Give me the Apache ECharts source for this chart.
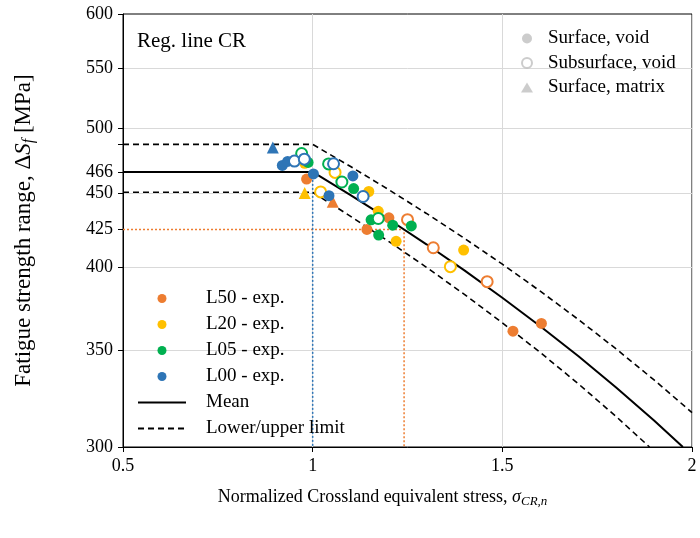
<!DOCTYPE html>
<html>
<head>
<meta charset="utf-8">
<script src="https://cdn.jsdelivr.net/npm/echarts@6/dist/echarts.min.js"></script>
<style>
  html, body { margin: 0; padding: 0; background: #fff; }
  #main { width: 700px; height: 538px; }
</style>
</head>
<body>
<div id="main"></div>
<script>
// y ticks (log axis), labels and gridlines
var yTicks = [300, 350, 400, 425, 450, 466, 487, 500, 550, 600];
var yLabels = [300, 350, 400, 425, 450, 466, 500, 550, 600];
var yGrid = [350, 400, 450, 500, 550];

// experiments: [sigma_CR,n, dS_f]
var l50Void = [[0.984, 460.7], [1.201, 433.0], [1.143, 425.0], [1.603, 365.6], [1.528, 361.1]];
var l50Sub = [[1.250, 431.7], [1.318, 412.7], [1.460, 390.9]];
var l50Matrix = [[1.053, 444.3]];

var l20Void = [[0.979, 472.4], [1.148, 451.6], [1.173, 437.5], [1.220, 417.0], [1.398, 411.2]];
var l20Sub = [[1.021, 451.3], [1.059, 465.6], [1.363, 400.4]];
var l20Matrix = [[0.979, 450.6]];

var l05Void = [[0.988, 473.1], [1.108, 453.7], [1.154, 431.6], [1.211, 427.9], [1.260, 427.4], [1.174, 421.2]];
var l05Sub = [[0.971, 479.9], [1.042, 472.0], [1.077, 458.5], [1.173, 432.5]];

var l00Void = [[0.920, 470.8], [0.934, 473.9], [1.002, 464.5], [1.043, 448.6], [1.106, 463.0]];
var l00Sub = [[0.952, 474.1], [0.978, 475.6], [1.055, 472.1], [1.133, 448.0]];
var l00Matrix = [[0.895, 484.5]];

// regression lines, every 0.1
var meanLine = [[0.5, 466], [1, 466], [1.1, 449], [1.2, 432], [1.3, 415], [1.4, 398], [1.5, 381],
  [1.6, 364], [1.7, 347], [1.8, 330], [1.9, 313], [1.976, 300]];
var upperLine = [[0.5, 487], [1, 487], [1.1, 470], [1.2, 453], [1.3, 436], [1.4, 419], [1.5, 402],
  [1.6, 385], [1.7, 368], [1.8, 351], [1.9, 334], [2, 317]];
var lowerLine = [[0.5, 451], [1, 451], [1.1, 434], [1.2, 417], [1.3, 400], [1.4, 383], [1.5, 366],
  [1.6, 349], [1.7, 332], [1.8, 315], [1.888, 300]];
var refOrange = [[0.5, 425], [1.241, 425], [1.241, 300]];
var refBlue = [[1, 466], [1, 300]];

var C50 = '#ED7D31', C20 = '#FFC000', C05 = '#00B050', C00 = '#2E75B6';
var FONT = 'Liberation Serif';

function filled(name, data, color) {
  return { name: name, type: 'scatter', data: data, symbol: 'circle', symbolSize: 11,
    itemStyle: { color: color, opacity: 1 }, z: 4 };
}
function hollow(name, data, color) {
  return { name: name, type: 'scatter', data: data, symbol: 'circle', symbolSize: 11,
    itemStyle: { color: '#fff', borderColor: color, borderWidth: 2, opacity: 1 }, z: 4 };
}
function tri(name, data, color) {
  return { name: name, type: 'scatter', data: data, symbol: 'triangle', symbolSize: 12,
    itemStyle: { color: color, opacity: 1 }, z: 4 };
}
function line(name, data, color, width, type) {
  return { name: name, type: 'line', data: data, symbol: 'none', showSymbol: false,
    lineStyle: { color: color, width: width, type: type }, itemStyle: { color: color },
    silent: true, animation: false, z: 3 };
}

var chart = echarts.init(document.getElementById('main'), null, { renderer: 'canvas' });

var option = {
  animation: false,
  backgroundColor: '#fff',
  textStyle: { fontFamily: FONT, color: '#000' },
  title: {
    text: 'Reg. line CR', left: 137, top: 31, padding: 0,
    textStyle: { fontFamily: FONT, fontSize: 21, fontWeight: 'normal', color: '#000' }
  },
  grid: {
    left: 123, right: 8, top: 14, bottom: 91, containLabel: false, outerBoundsMode: 'none',
    show: true, borderColor: '#000', borderWidth: 1, backgroundColor: 'transparent'
  },
  legend: [
    {
      orient: 'vertical', left: 137, top: 289, padding: 0,
      itemWidth: 48, itemHeight: 9, itemGap: 7, selectedMode: false,
      data: [
        { name: 'L50 - exp.', icon: 'circle' },
        { name: 'L20 - exp.', icon: 'circle' },
        { name: 'L05 - exp.', icon: 'circle' },
        { name: 'L00 - exp.', icon: 'circle' },
        { name: 'Mean', itemStyle: { opacity: 0 } },
        { name: 'Lower/upper limit', itemStyle: { opacity: 0 } }
      ],
      textStyle: { fontFamily: FONT, fontSize: 19, color: '#000', padding: [0, 0, 0, 15] }
    },
    {
      orient: 'vertical', left: 521, top: 29, padding: 0,
      itemWidth: 12, itemHeight: 10, itemGap: 5.5, selectedMode: false,
      data: ['Surface, void', 'Subsurface, void', 'Surface, matrix'],
      textStyle: { fontFamily: FONT, fontSize: 19, color: '#000', padding: [0, 0, 0, 10] }
    }
  ],
  xAxis: {
    type: 'value', min: 0.5, max: 2, interval: 0.5,
    name: 'Normalized Crossland equivalent stress, {i|σ}{sub|CR,n}',
    nameLocation: 'middle', nameGap: 40,
    nameTextStyle: {
      fontFamily: FONT, fontSize: 18, color: '#000', padding: [0, 50, 0, 0],
      rich: {
        i: { fontFamily: FONT, fontSize: 18, fontStyle: 'italic', color: '#000' },
        sub: { fontFamily: FONT, fontSize: 13, fontStyle: 'italic', color: '#000', padding: [8, 0, 0, 0] }
      }
    },
    axisLine: { show: true, onZero: false, lineStyle: { color: '#000', width: 1 } },
    axisTick: { show: true, inside: false, length: 5, lineStyle: { color: '#000' } },
    axisLabel: { fontFamily: FONT, fontSize: 18, color: '#000', margin: 10 },
    splitLine: { show: true, lineStyle: { color: '#D9D9D9', width: 1 } }
  },
  yAxis: [
    {
      type: 'log', logBase: 10, min: 300, max: 600,
      name: 'Fatigue strength range, Δ{i|S}{sub|f} [MPa]',
      nameLocation: 'middle', nameGap: 86,
      nameTextStyle: {
        fontFamily: FONT, fontSize: 23, color: '#000',
        rich: {
          i: { fontFamily: FONT, fontSize: 23, fontStyle: 'italic', color: '#000' },
          sub: { fontFamily: FONT, fontSize: 16, fontStyle: 'italic', color: '#000', padding: [10, 0, 0, 0] }
        }
      },
      axisLine: { show: true, onZero: false, lineStyle: { color: '#000', width: 1 } },
      axisTick: { show: true, inside: false, length: 5, customValues: yTicks, lineStyle: { color: '#000' } },
      axisLabel: { fontFamily: FONT, fontSize: 18, color: '#000', margin: 10, customValues: yLabels },
      splitLine: { show: false }
    },
    {
      type: 'log', logBase: 10, min: 300, max: 600, position: 'left',
      axisLine: { show: false },
      axisTick: { show: false, customValues: yGrid },
      axisLabel: { show: false, customValues: yGrid },
      splitLine: { show: true, lineStyle: { color: '#D9D9D9', width: 1 } }
    }
  ],
  series: [
    line('ref425', refOrange, C50, 1.5, [2, 2]),
    line('ref1', refBlue, C00, 1.5, [2, 2]),
    line('Mean', meanLine, '#000', 2, 'solid'),
    line('Lower/upper limit', lowerLine, '#000', 1.6, [6, 4]),
    line('Lower/upper limit', upperLine, '#000', 1.6, [6, 4]),

    filled('L50 - exp.', l50Void, C50),
    hollow('L50 sub', l50Sub, C50),
    tri('L50 matrix', l50Matrix, C50),
    filled('L20 - exp.', l20Void, C20),
    hollow('L20 sub', l20Sub, C20),
    tri('L20 matrix', l20Matrix, C20),
    filled('L05 - exp.', l05Void, C05),
    hollow('L05 sub', l05Sub, C05),
    filled('L00 - exp.', l00Void, C00),
    hollow('L00 sub', l00Sub, C00),
    tri('L00 matrix', l00Matrix, C00),

    // legend-only entries for failure origin
    { name: 'Surface, void', type: 'scatter', data: [], symbol: 'circle', symbolSize: 9,
      itemStyle: { color: '#BFBFBF' } },
    { name: 'Subsurface, void', type: 'scatter', data: [], symbol: 'circle', symbolSize: 9,
      itemStyle: { color: '#fff', borderColor: '#BFBFBF', borderWidth: 1.5 } },
    { name: 'Surface, matrix', type: 'scatter', data: [], symbol: 'triangle', symbolSize: 10,
      itemStyle: { color: '#BFBFBF' } }
  ]
};

chart.setOption(option);
</script>
</body>
</html>
